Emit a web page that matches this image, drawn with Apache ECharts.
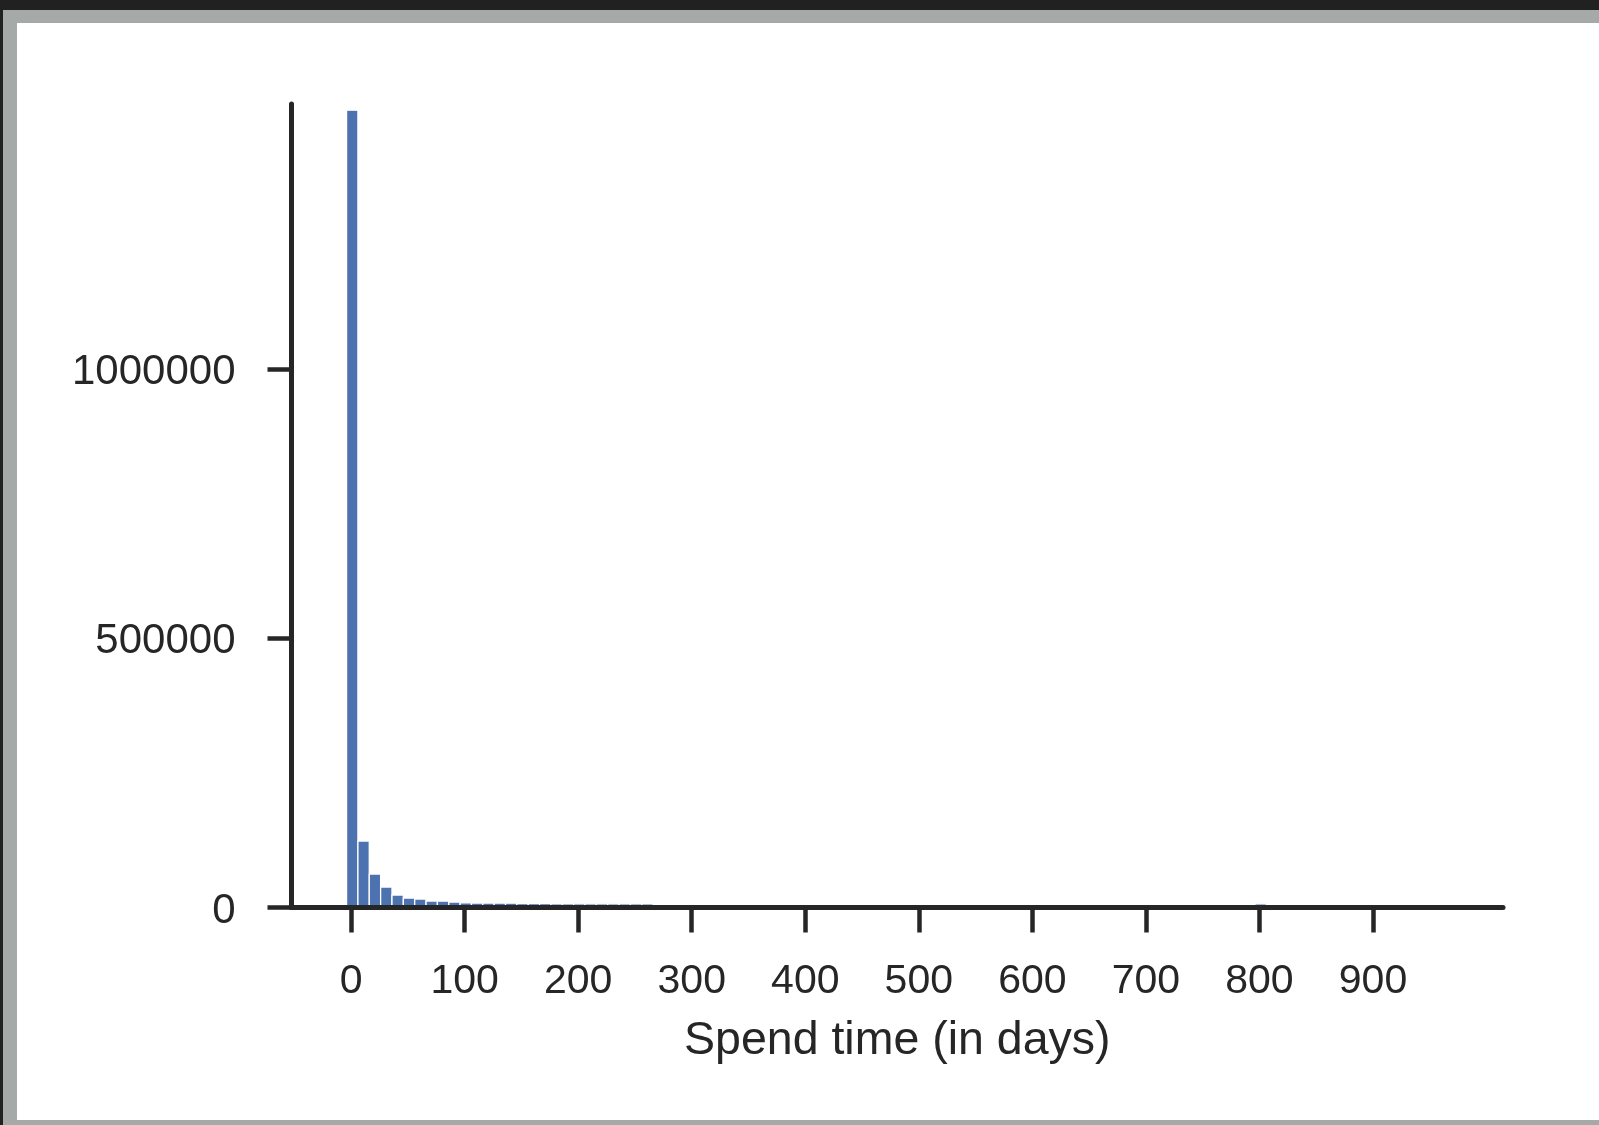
<!DOCTYPE html>
<html>
<head>
<meta charset="utf-8">
<script src="https://cdn.jsdelivr.net/npm/echarts@6/dist/echarts.min.js"></script>
<style>
  html, body { margin: 0; padding: 0; width: 1599px; height: 1125px; overflow: hidden; background: #212121; }
  #frame { position: absolute; left: 3px; top: 10px; width: 1596px; height: 1115px; background: #a5a9a7; }
  #chart { position: absolute; left: 17px; top: 23px; width: 1582px; height: 1097px; background: #ffffff; }
</style>
</head>
<body>
<div id="frame"></div>
<div id="chart"></div>
<script>
// ---- data ----
const binStart = -4;
const binWidth = 10;
const counts = [
  1481500, 123500, 62200, 38100, 23200, 17600, 15800, 12100, 11800, 10200,
  8600, 8400, 8300, 8200, 8000, 7400, 7200, 7100, 7000, 7000,
  6900, 6900, 6800, 6800, 6700, 6700, 6600, 4200, 4000, 3900,
  3800, 3600, 3500, 3400, 3300, 3200, 3100, 3000, 2900, 2800,
  2700, 2600, 2500, 2400, 2300, 2300, 2200, 2100, 2100, 2000,
  1900, 1900, 1800, 1800, 1700, 1700, 1600, 1600, 1500, 1500,
  1400, 1400, 1400, 1300, 1300, 1200, 1200, 1200, 1100, 1100,
  1100, 1000, 1000, 1000, 900, 900, 900, 900, 800, 800,
  6800, 700, 700, 600, 600, 600, 500, 500, 500, 400,
  400, 400, 300, 300, 300, 200, 200
];
const xTicks = [0, 100, 200, 300, 400, 500, 600, 700, 800, 900];
const yTicks = [0, 500000, 1000000];
const xName = 'Spend time (in days)';

// ---- build histogram rows [start, end, count] ----
const rows = counts.map((c, i) => [binStart + i * binWidth, binStart + (i + 1) * binWidth, c]);

const ink = '#262626';
const font = "'Liberation Sans', Arial, sans-serif";
const plain = v => String(v);
const chart = echarts.init(document.getElementById('chart'), null, { renderer: 'canvas' });
chart.setOption({
  animation: false,
  backgroundColor: '#ffffff',
  grid: { left: 274.5, top: 81, right: 96, bottom: 212.5, containLabel: false },
  xAxis: {
    type: 'value',
    min: -52.5,
    max: 1014.5,
    z: 5,
    name: xName,
    nameLocation: 'middle',
    nameGap: 110,
    nameTextStyle: { color: ink, fontSize: 46.5, fontFamily: font },
    axisLine: { show: true, onZero: false, lineStyle: { color: ink, width: 5 } },
    axisTick: { show: true, length: 25, lineStyle: { color: ink, width: 4.5 }, customValues: xTicks },
    axisLabel: { color: ink, fontSize: 41, fontFamily: font, margin: 54, customValues: xTicks, formatter: plain },
    splitLine: { show: false }
  },
  yAxis: {
    type: 'value',
    min: 0,
    max: 1493000,
    z: 5,
    axisLine: { show: true, onZero: false, lineStyle: { color: ink, width: 5 } },
    axisTick: { show: true, length: 24, lineStyle: { color: ink, width: 4.5 }, customValues: yTicks },
    axisLabel: {
      color: ink, fontSize: 42, fontFamily: font, margin: 56, customValues: yTicks,
      formatter: v => '{a|' + v + '}',
      rich: { a: { color: ink, fontSize: 42, fontFamily: font, padding: [7, 0, 0, 0] } }
    },
    splitLine: { show: false }
  },
  series: [{
    type: 'custom',
    z: 2,
    data: rows,
    encode: { x: [0, 1], y: 2 },
    renderItem: function (params, api) {
      const tl = api.coord([api.value(0), api.value(2)]);
      const br = api.coord([api.value(1), 0]);
      return {
        type: 'rect',
        shape: { x: tl[0], y: tl[1], width: br[0] - tl[0], height: br[1] - tl[1] },
        style: { fill: '#4C72B0', stroke: '#ffffff', lineWidth: 1.3 }
      };
    }
  }]
});
</script>
</body>
</html>
